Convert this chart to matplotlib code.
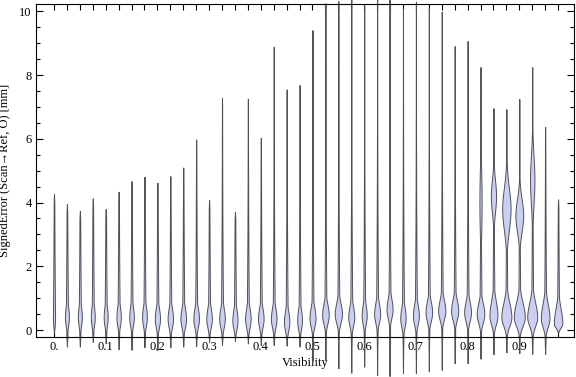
import numpy as np
import matplotlib
matplotlib.use("Agg")
import matplotlib.pyplot as plt
from matplotlib.ticker import FixedLocator, MultipleLocator, FuncFormatter

plt.rcParams["font.family"] = ["Liberation Serif", "DejaVu Serif"]

# one violin per visibility bin
visibility = [0.000, 0.025, 0.050, 0.075, 0.100, 0.125, 0.150, 0.175, 0.200, 0.225,
              0.250, 0.275, 0.300, 0.325, 0.350, 0.375, 0.400, 0.425, 0.450, 0.475,
              0.500, 0.525, 0.550, 0.575, 0.600, 0.625, 0.650, 0.675, 0.700, 0.725,
              0.750, 0.775, 0.800, 0.825, 0.850, 0.875, 0.900, 0.925, 0.950, 0.975]

err_min = [-0.10, -0.52, -0.52, -0.37, -0.42, -0.60, -0.62, -0.54, -0.63, -0.54,
           -0.52, -0.50, -0.37, -0.47, -0.34, -0.42, -0.47, -0.47, -0.49, -0.52,
           -0.99, -0.95, -1.20, -1.34, -1.15, -1.41, -1.46, -1.36, -1.36, -1.30,
           -1.25, -1.04, -1.04, -0.90, -0.76, -0.70, -0.73, -0.75, -0.75, -0.10]

err_max = [4.27, 3.95, 3.74, 4.13, 3.80, 4.34, 4.67, 4.81, 4.62, 4.83,
           5.10, 5.98, 4.08, 7.29, 3.71, 7.26, 6.03, 8.89, 7.55, 7.69,
           9.41, 10.25, 10.32, 10.40, 10.20, 10.40, 10.40, 10.09, 10.30, 10.12,
           9.99, 8.91, 9.07, 8.25, 6.96, 6.93, 7.25, 8.25, 6.37, 4.10]

# main (low) density peak: position and half-width in pixels
peak_pos = [0.35, 0.40, 0.40, 0.40, 0.40, 0.40, 0.40, 0.40, 0.35, 0.35,
            0.35, 0.35, 0.35, 0.35, 0.30, 0.35, 0.35, 0.35, 0.25, 0.30,
            0.37, 0.47, 0.50, 0.40, 0.45, 0.50, 0.63, 0.37, 0.45, 0.55,
            0.60, 0.60, 0.55, 0.50, 0.45, 0.40, 0.40, 0.40, 0.37, 0.22]

peak_px = [1.0, 2.0, 2.0, 2.0, 2.0, 2.2, 2.3, 2.4, 2.6, 2.7,
           2.8, 2.8, 2.8, 2.8, 2.6, 2.8, 2.8, 2.8, 2.7, 2.4,
           3.0, 3.3, 3.6, 3.0, 2.5, 3.0, 3.0, 2.7, 3.0, 3.3,
           3.6, 3.6, 3.4, 3.8, 4.0, 5.0, 5.5, 5.0, 4.3, 4.2]

# second (upper) density bump for the high-visibility bins
bump_pos = {33: 4.0, 34: 4.2, 35: 3.8, 36: 3.6, 37: 4.7}
bump_px = {33: 1.1, 34: 2.6, 35: 4.2, 36: 3.9, 37: 2.2}
bump_sig = {33: 1.0, 34: 0.5, 35: 0.65, 36: 0.5, 37: 0.75}

PX_PER_X = 517.0

fig = plt.figure(figsize=(5.76, 3.77), dpi=100)
ax = fig.add_axes([36 / 576, 1 - 336.7 / 377, (574 - 36) / 576, (336.7 - 4) / 377])

fill_color = "#cbd0f3"
edge_color = "#50505a"

for i, x0 in enumerate(visibility):
    lo, hi = err_min[i], err_max[i]
    m = peak_pos[i]
    y = np.linspace(lo, hi, 500)
    sig_hi = 0.45 if i >= 34 else 0.34
    w = peak_px[i] * np.exp(-0.5 * ((y - m) / np.where(y > m, sig_hi, 0.27)) ** 2)
    tail = np.where(y > m, 1.1 * np.exp(-(y - m) / 3.0), 1.1 * np.exp(-(m - y) / 0.7))
    w = np.maximum(w, tail)
    if i in bump_pos:
        w = np.maximum(w, bump_px[i] * np.exp(-0.5 * ((y - bump_pos[i]) / bump_sig[i]) ** 2))
    taper = np.clip(np.minimum(y - lo, hi - y) / 0.25, 0, 1)
    w = w * taper / PX_PER_X
    ax.fill_betweenx(y, x0 - w, x0 + w, facecolor=fill_color, edgecolor=edge_color,
                     linewidth=0.7, clip_on=False, zorder=2)

ax.set_xlim(-0.0348, 1.0058)
ax.set_ylim(-0.21, 10.23)

ax.xaxis.set_major_locator(FixedLocator(visibility))
ax.xaxis.set_major_formatter(FuncFormatter(
    lambda v, p: ("0." if abs(v) < 1e-9 else f"{v:.1f}") if abs(v * 10 - round(v * 10)) < 1e-6 else ""))
ax.yaxis.set_major_locator(MultipleLocator(2))
ax.yaxis.set_minor_locator(MultipleLocator(0.5))

ax.tick_params(axis="x", which="major", direction="in", length=4, width=0.8,
               top=True, bottom=True, labelsize=9, pad=3)
ax.tick_params(axis="y", which="major", direction="in", length=5, width=0.8,
               left=True, right=True, labelsize=9, pad=3)
ax.tick_params(axis="y", which="minor", direction="in", length=3, width=0.8,
               left=True, right=True)

for s in ax.spines.values():
    s.set_linewidth(0.8)
    s.set_zorder(3)

ax.set_xlabel("Visibility", fontsize=9, labelpad=3)
ax.set_ylabel("SignedError (Scan\u2192Ref, O) [mm]", fontsize=9, labelpad=6)

fig.savefig("out.png", dpi=100)
